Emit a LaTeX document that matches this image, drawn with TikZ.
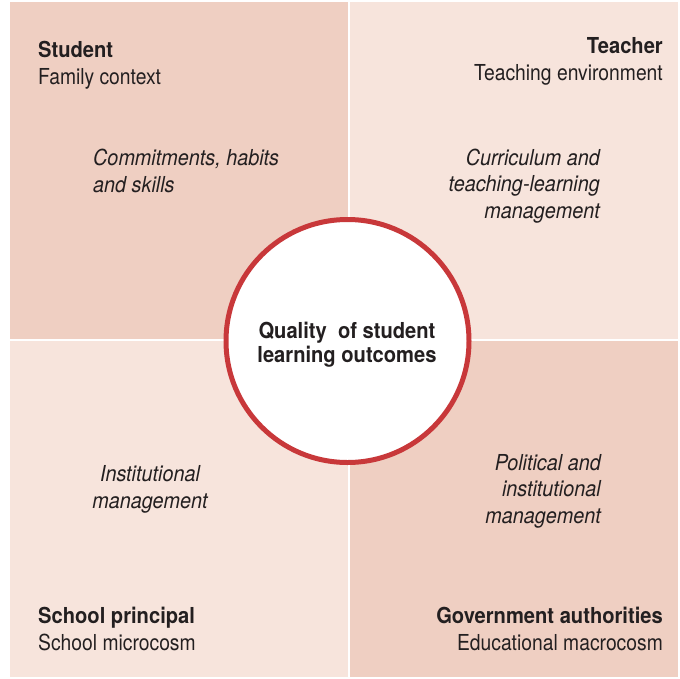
\documentclass[tikz,border=0pt]{standalone}
\usepackage{fontspec}
\setmainfont{TeX Gyre Heros}[
	UprightFeatures={FakeStretch=0.877},
	BoldFeatures={FakeStretch=0.916},
	ItalicFeatures={FakeStretch=0.9}]
\definecolor{quaddark}{HTML}{EFCFC2}
\definecolor{quadlight}{HTML}{F7E4DC}
\definecolor{ringred}{HTML}{C8383A}
\definecolor{inkgrey}{HTML}{231F20}
\begin{document}
\begin{tikzpicture}[x=1pt, y=-1pt,
		every node/.style = {inner sep=0pt, text=inkgrey},
		actor/.style = {font=\fontsize{22}{27}\selectfont},
		focus/.style = {font=\fontsize{22}{26.5}\selectfont\itshape},
		hub/.style = {draw=ringred, line width=5pt, fill=white, circle, minimum size=243pt},
		hubtext/.style = {align=center, font=\fontsize{22}{24}\selectfont\bfseries}]
		\useasboundingbox (0,0) rectangle (680,678);
		% four quarters
		\fill[quaddark] (10,2) rectangle (347.5,339);
		\fill[quadlight] (350,2) rectangle (678,339);
		\fill[quadlight] (10,341) rectangle (347.5,677);
		\fill[quaddark] (350,341) rectangle (678,677);
		% who and where (base = last line)
		\node[actor, align=left, anchor=base west] (student) at (38,84) {\textbf{Student}\\Family context};
		\node[actor, align=right, anchor=base east] (teacher) at (663,80) {\textbf{Teacher}\\Teaching environment};
		\node[actor, align=left, anchor=base west] (principal) at (38,650) {\textbf{School principal}\\School microcosm};
		\node[actor, align=right, anchor=base east] (government) at (663,650) {\textbf{Government authorities}\\Educational macrocosm};
		% what they look after
		\node[focus, align=left, anchor=base west] (habits) at (93,192) {Commitments, habits\\and skills};
		\node[focus, align=right, anchor=base east] (curriculum) at (600,218) {Curriculum and\\teaching-learning\\management};
		\node[focus, align=center, anchor=base] (institution) at (150,508) {Institutional\\management};
		\node[focus, align=right, anchor=base east] (policy) at (601,523) {Political and\\institutional\\management};
		% centre
		\node[hub] (quality) at (347.5,341) {};
		\node[hubtext, anchor=base] (qualitytext) at (347,362) {Quality\ \ of student\\learning outcomes};
	\end{tikzpicture}
\end{document}
